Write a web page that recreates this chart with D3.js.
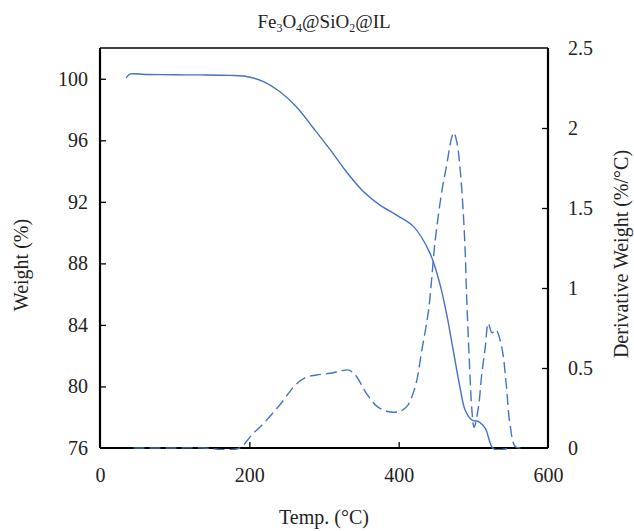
<!DOCTYPE html>
<html>
<head>
<meta charset="utf-8">
<script src="https://cdn.jsdelivr.net/npm/d3@7"></script>
<style>
  body { margin: 0; background: #fff; }
  text { font-family: "Liberation Serif", "DejaVu Serif", serif; fill: #222; }
</style>
</head>
<body>
<div id="chart"></div>
<script>
// temperature (°C) and weight (%) for the solid TGA curve
var tempW = [35, 40, 60, 100, 134, 174, 196, 219, 241, 263, 286, 308, 330, 353, 375, 397, 420, 442, 455, 464, 473, 482, 489, 498, 507, 516, 527, 545];
var weight = [100.05, 100.3, 100.28, 100.26, 100.25, 100.22, 100.15, 99.81, 99.16, 98.18, 96.78, 95.41, 93.96, 92.66, 91.79, 91.14, 90.39, 88.65, 86.7, 84.76, 82.37, 79.98, 78.47, 77.82, 77.71, 77.28, 75.95, 75.95];

// temperature (°C) and derivative weight (%/°C) for the dashed DTG curve
var tempD = [45, 60, 100, 140, 165, 187, 203, 219, 241, 261, 275, 290, 308, 321, 333, 342, 357, 371, 384, 400, 411, 422, 431, 440, 449, 458, 464, 471, 474, 478, 482, 486, 489, 491, 495, 498, 501, 507, 511, 516, 520, 525, 530, 538, 544, 549, 556, 563];
var deriv = [0.0, 0.0, 0.0, 0.0, -0.01, 0.0, 0.08, 0.154, 0.27, 0.39, 0.44, 0.456, 0.467, 0.48, 0.487, 0.456, 0.34, 0.26, 0.23, 0.227, 0.26, 0.38, 0.61, 0.86, 1.3, 1.61, 1.76, 1.94, 1.97, 1.91, 1.76, 1.51, 1.24, 0.95, 0.51, 0.24, 0.13, 0.26, 0.45, 0.63, 0.78, 0.72, 0.74, 0.63, 0.4, 0.15, 0.01, 0.0];

var xTicks = [0, 200, 400, 600];
var leftTicks = [76, 80, 84, 88, 92, 96, 100];
var rightTicks = [0, 0.5, 1, 1.5, 2, 2.5];

var width = 634, height = 531;
var plotL = 100, plotR = 548, plotT = 48, plotB = 448;
var blue = "#4472c4";

var svg = d3.select("#chart").append("svg")
    .attr("width", width)
    .attr("height", height);

var x = d3.scaleLinear().domain([0, 600]).range([plotL, plotR]);
var yL = d3.scaleLinear().domain([76, 102]).range([plotB, plotT]);
var yR = d3.scaleLinear().domain([0, 2.5]).range([plotB, plotT]);

// frame
svg.append("line").attr("x1", plotL).attr("x2", plotR).attr("y1", plotT).attr("y2", plotT)
    .attr("stroke", "#000").attr("stroke-width", 1.3);
svg.append("line").attr("x1", plotL).attr("x2", plotR).attr("y1", plotB).attr("y2", plotB)
    .attr("stroke", "#000").attr("stroke-width", 2.2);
svg.append("line").attr("x1", plotL).attr("x2", plotL).attr("y1", plotT).attr("y2", plotB)
    .attr("stroke", "#000").attr("stroke-width", 2.2);
svg.append("line").attr("x1", plotR).attr("x2", plotR).attr("y1", plotT).attr("y2", plotB)
    .attr("stroke", "#000").attr("stroke-width", 2.2);

// axes: inward ticks, no domain line
function styleAxis(g) {
    g.select(".domain").remove();
    g.selectAll(".tick line").attr("stroke", "#000").attr("stroke-width", 1.3);
    g.selectAll(".tick text").attr("font-size", 20).attr("fill", "#222")
        .style("font-family", "'Liberation Serif', serif");
}

svg.append("g")
    .attr("transform", "translate(0," + plotB + ")")
    .call(d3.axisBottom(x).tickValues(xTicks).tickSizeInner(-6).tickSizeOuter(0).tickPadding(20))
    .call(styleAxis)
    .call(function(g) {
        g.selectAll(".tick line").filter(function(d) { return d === 0 || d === 600; }).remove();
    });

svg.append("g")
    .attr("transform", "translate(" + plotL + ",0)")
    .call(d3.axisLeft(yL).tickValues(leftTicks).tickSizeInner(-6).tickSizeOuter(0).tickPadding(12))
    .call(styleAxis)
    .call(function(g) {
        g.selectAll(".tick line").filter(function(d) { return d === 76; }).remove();
    });

svg.append("g")
    .attr("transform", "translate(" + plotR + ",0)")
    .call(d3.axisRight(yR).tickValues(rightTicks).tickFormat(d3.format("")).tickSizeInner(-6).tickSizeOuter(0).tickPadding(20))
    .call(styleAxis)
    .call(function(g) {
        g.selectAll(".tick line").filter(function(d) { return d === 0 || d === 2.5; }).remove();
    });

// curves drawn over the frame
svg.append("clipPath").attr("id", "plot")
    .append("rect")
    .attr("x", plotL).attr("y", plotT - 2)
    .attr("width", plotR - plotL).attr("height", plotB - plotT + 4);

var curve = d3.curveCatmullRom.alpha(0.5);

var wLine = d3.line()
    .x(function(d, i) { return x(tempW[i]); })
    .y(function(d) { return yL(Math.max(d, 75.9)); })
    .curve(curve);

var dLine = d3.line()
    .x(function(d, i) { return x(tempD[i]); })
    .y(function(d) { return yR(d); })
    .curve(curve);

var plot = svg.append("g").attr("clip-path", "url(#plot)");

plot.append("path")
    .attr("d", wLine(weight))
    .attr("fill", "none")
    .attr("stroke", blue)
    .attr("stroke-width", 1.4);

plot.append("path")
    .attr("d", dLine(deriv))
    .attr("fill", "none")
    .attr("stroke", blue)
    .attr("stroke-width", 1.4)
    .attr("stroke-dasharray", "11,5");

// titles
var title = svg.append("text")
    .attr("x", 324).attr("y", 28)
    .attr("text-anchor", "middle")
    .attr("font-size", 19);
title.append("tspan").text("Fe");
title.append("tspan").text("3").attr("font-size", 12).attr("dy", 4);
title.append("tspan").text("O").attr("dy", -4);
title.append("tspan").text("4").attr("font-size", 12).attr("dy", 4);
title.append("tspan").text("@SiO").attr("dy", -4);
title.append("tspan").text("2").attr("font-size", 12).attr("dy", 4);
title.append("tspan").text("@IL").attr("dy", -4);

svg.append("text")
    .attr("x", 324).attr("y", 524)
    .attr("text-anchor", "middle")
    .attr("font-size", 20)
    .text("Temp. (°C)");

svg.append("text")
    .attr("transform", "translate(28,265) rotate(-90)")
    .attr("text-anchor", "middle")
    .attr("font-size", 20)
    .text("Weight (%)");

svg.append("text")
    .attr("transform", "translate(628,254) rotate(-90)")
    .attr("text-anchor", "middle")
    .attr("font-size", 20)
    .text("Derivative Weight (%/°C)");
</script>
</body>
</html>
